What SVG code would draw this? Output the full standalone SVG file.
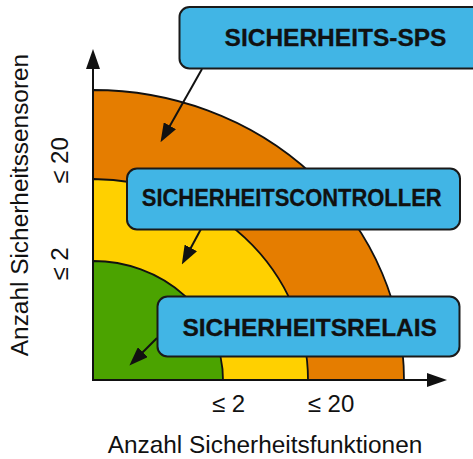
<svg xmlns="http://www.w3.org/2000/svg" width="473" height="459" viewBox="0 0 473 459">
<style>
.region{stroke:#111;stroke-width:1.8;stroke-linejoin:round}
.box{fill:#41B5E5;stroke:#1a1a1a;stroke-width:2}
.lbl{font-family:"Liberation Sans",Arial,sans-serif;font-weight:bold;font-size:24.5px;fill:#111;stroke:#111;stroke-width:0.3;text-anchor:middle}
.ax{font-family:"Liberation Sans",Arial,sans-serif;font-size:24.4px;fill:#111;text-anchor:middle}
.axis{stroke:#111;stroke-width:2;fill:none}
.conn{stroke:#111;stroke-width:2;fill:none}
</style>
<defs>
<marker id="ah" viewBox="0 0 19 14" refX="3" refY="7" markerWidth="19" markerHeight="14" markerUnits="userSpaceOnUse" orient="auto">
<path d="M0,0 L19,7 L0,14 z" fill="#111"/>
</marker>
<marker id="axh" viewBox="0 0 20 14" refX="2" refY="7" markerWidth="20" markerHeight="14" markerUnits="userSpaceOnUse" orient="auto">
<path d="M0,0 L20,7 L0,14 z" fill="#111"/>
</marker>
</defs>
<g id="regions">
<path id="orange" class="region" fill="#E57D00" d="M93,380 L93,90 A311,290 0 0 1 404,380 Z"/>
<path id="yellow" class="region" fill="#FFD000" d="M93,380 L93,179 A215,201 0 0 1 308,380 Z"/>
<path id="green" class="region" fill="#4BA300" d="M93,380 L93,261 A130,119 0 0 1 223,380 Z"/>
</g>
<g id="axes">
<line class="axis" x1="93" y1="381" x2="93" y2="67" marker-end="url(#axh)"/>
<line class="axis" x1="92" y1="380" x2="429" y2="380" marker-end="url(#axh)"/>
</g>
<g id="axis-labels">
<text class="ax" transform="translate(28,205) rotate(-90)">Anzahl Sicherheitssensoren</text>
<text class="ax" transform="translate(68,160.5) rotate(-90)" style="font-size:24px">≤ 20</text>
<text class="ax" transform="translate(68,264) rotate(-90)" style="font-size:24px">≤ 2</text>
<text class="ax" x="228.5" y="412" style="font-size:24px">≤ 2</text>
<text class="ax" x="331" y="412" style="font-size:24px">≤ 20</text>
<text class="ax" x="265" y="453">Anzahl Sicherheitsfunktionen</text>
</g>
<g id="connectors">
<line class="conn" x1="202" y1="69" x2="168.4" y2="128.4" marker-end="url(#ah)"/>
<line class="conn" x1="201" y1="229" x2="189.4" y2="250.5" marker-end="url(#ah)"/>
<line class="conn" x1="157" y1="338" x2="140.7" y2="354.3" marker-end="url(#ah)"/>
</g>
<g id="sps">
<rect class="box" x="179.5" y="7" width="310" height="61.5" rx="10"/>
<text class="lbl" x="335.5" y="45.7">SICHERHEITS-SPS</text>
</g>
<g id="controller">
<rect class="box" x="127" y="168.5" width="333" height="61" rx="10"/>
<text class="lbl" transform="translate(291.7,205.7) scale(0.896,1)" x="0" y="0">SICHERHEITSCONTROLLER</text>
</g>
<g id="relais">
<rect class="box" x="157.5" y="296.5" width="302" height="60" rx="10"/>
<text class="lbl" x="309.7" y="335.9">SICHERHEITSRELAIS</text>
</g>
</svg>
